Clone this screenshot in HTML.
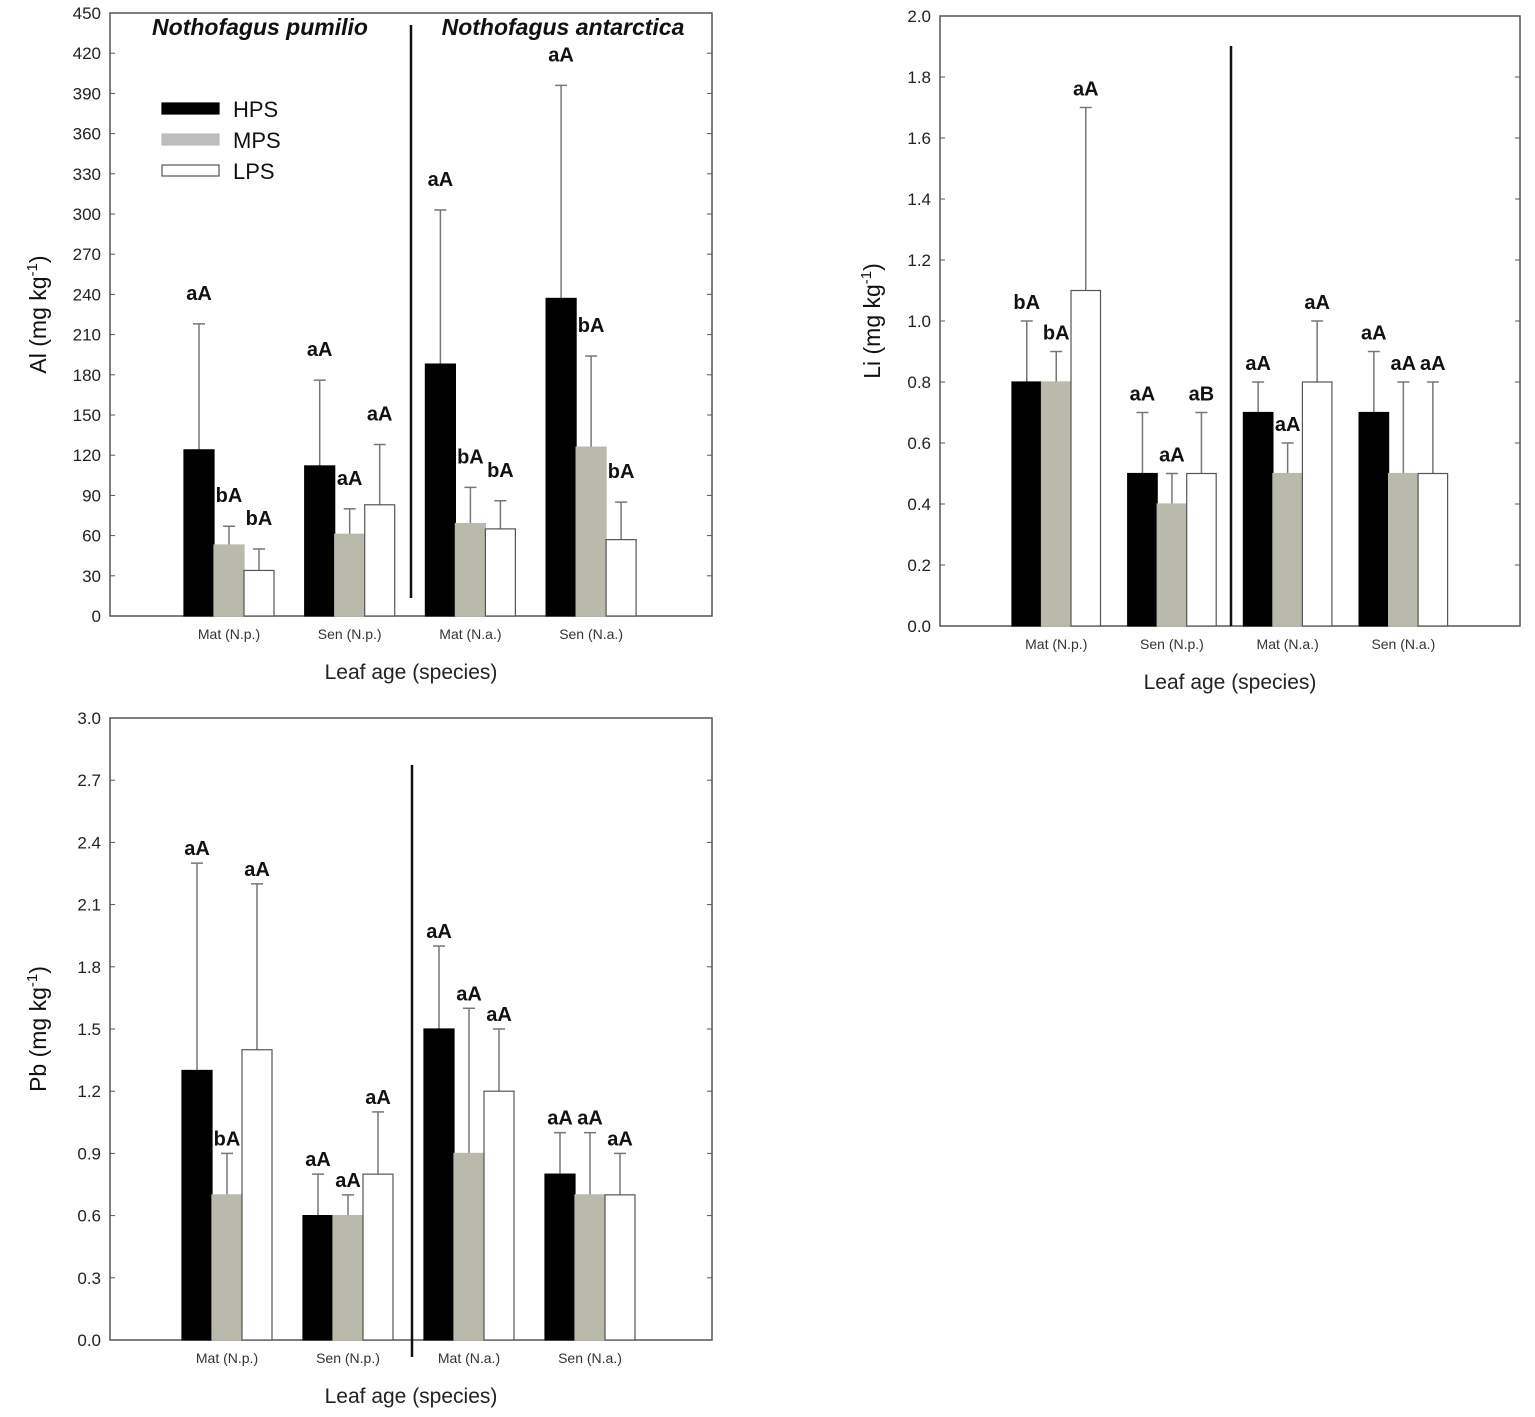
<!DOCTYPE html>
<html><head><meta charset="utf-8"><style>
body{margin:0;background:#fff;}
svg{display:block;font-family:"Liberation Sans",Arial,sans-serif;}
</style></head><body>
<svg id="c" width="1535" height="1417" viewBox="0 0 1535 1417"></svg>
<script>
const groups=["Mat (N.p.)","Sen (N.p.)","Mat (N.a.)","Sen (N.a.)"];
const series=["HPS","MPS","LPS"];
const alHPS=[124,112,188,237], alMPS=[53,61,69,126], alLPS=[34,83,65,57];
const alErrHPS=[218,176,303,396], alErrMPS=[67,80,96,194], alErrLPS=[50,128,86,85];
const alLabHPS=["aA","aA","aA","aA"], alLabMPS=["bA","aA","bA","bA"], alLabLPS=["bA","aA","bA","bA"];
const alTicks=[0,30,60,90,120,150,180,210,240,270,300,330,360,390,420,450];
const liHPS=[0.8,0.5,0.7,0.7], liMPS=[0.8,0.4,0.5,0.5], liLPS=[1.1,0.5,0.8,0.5];
const liErrHPS=[1.0,0.7,0.8,0.9], liErrMPS=[0.9,0.5,0.6,0.8], liErrLPS=[1.7,0.7,1.0,0.8];
const liLabHPS=["bA","aA","aA","aA"], liLabMPS=["bA","aA","aA","aA"], liLabLPS=["aA","aB","aA","aA"];
const liTicks=[0,0.2,0.4,0.6,0.8,1.0,1.2,1.4,1.6,1.8,2.0];
const pbHPS=[1.3,0.6,1.5,0.8], pbMPS=[0.7,0.6,0.9,0.7], pbLPS=[1.4,0.8,1.2,0.7];
const pbErrHPS=[2.3,0.8,1.9,1.0], pbErrMPS=[0.9,0.7,1.6,1.0], pbErrLPS=[2.2,1.1,1.5,0.9];
const pbLabHPS=["aA","aA","aA","aA"], pbLabMPS=["bA","aA","aA","aA"], pbLabLPS=["aA","aA","aA","aA"];
const pbTicks=[0,0.3,0.6,0.9,1.2,1.5,1.8,2.1,2.4,2.7,3.0];

const NS="http://www.w3.org/2000/svg";
const svg=document.getElementById('c');
function mk(tag,attrs,parent,text){const e=document.createElementNS(NS,tag);for(const k in attrs)e.setAttribute(k,attrs[k]);if(text!==undefined)e.textContent=text;(parent||svg).appendChild(e);return e;}
const fills=["#000","#b9b9ac","#fff"];

function panel(cfg){
  const g=mk('g',{});
  
  
  const y=v=>cfg.bottom-(v-cfg.min)/(cfg.max-cfg.min)*(cfg.bottom-cfg.top);
  const x0=i=>cfg.first+i*cfg.spacing;
  const box=mk('rect',{x:cfg.left,y:cfg.top,width:cfg.right-cfg.left,height:cfg.bottom-cfg.top,fill:'none',stroke:'#555','stroke-width':1.5},g);
  
  
  cfg.ticks.forEach(t=>{
    mk('line',{x1:cfg.left,x2:cfg.left+5,y1:y(t),y2:y(t),stroke:'#555'},g);
    mk('line',{x1:cfg.right,x2:cfg.right-5,y1:y(t),y2:y(t),stroke:'#555'},g);
    const tl=mk('text',{x:cfg.left-9,y:y(t)+6,'text-anchor':'end','font-size':17,fill:'#222'},g,cfg.fmt(t));
    
    
  });
  const dv=mk('line',{x1:cfg.divX,x2:cfg.divX,y1:cfg.divTop,y2:cfg.divBot,stroke:'#111','stroke-width':2.5},g);
  
  
  const vals=[cfg.h,cfg.m,cfg.l], errs=[cfg.eh,cfg.em,cfg.el], labs=[cfg.lh,cfg.lm,cfg.ll];
  groups.forEach((gn,i)=>{
    for(let s=0;s<3;s++){
      const bx=x0(i)+s*cfg.bw, v=vals[s][i], e=errs[s][i];
      const cx=bx+cfg.bw/2;
      const el=mk('line',{x1:cx,x2:cx,y1:y(v),y2:y(e),stroke:'#777','stroke-width':1.5},g);
      
      
      mk('line',{x1:cx-6,x2:cx+6,y1:y(e),y2:y(e),stroke:'#777','stroke-width':1.5},g);
      const r=mk('rect',{x:bx,y:y(v),width:cfg.bw,height:y(0)-y(v),fill:fills[s],stroke:s==2?'#555':fills[s],'stroke-width':1.2},g);
      
      
      const t=mk('text',{x:cx,y:y(e)-cfg.lo,'text-anchor':'middle','font-size':20,'font-weight':'bold',fill:'#111'},g,labs[s][i]);
      
      
    }
    const xl=mk('text',{x:x0(i)+cfg.bw*1.5,y:cfg.bottom+23,'text-anchor':'middle','font-size':14,fill:'#333'},g,gn);
    
    
  });
  const xt=mk('text',{x:(cfg.left+cfg.right)/2,y:cfg.bottom+63,'text-anchor':'middle','font-size':21,fill:'#222'},g,'Leaf age (species)');
  
  
  const yt=mk('text',{transform:`translate(${cfg.ylx},${(cfg.top+cfg.bottom)/2}) rotate(-90)`,'text-anchor':'middle','font-size':23,fill:'#111'},g);
  
  
  mk('tspan',{},yt,cfg.el0+' (mg kg');
  mk('tspan',{dy:-9,'font-size':15},yt,'-1');
  mk('tspan',{dy:9},yt,')');
  return g;
}
const f0=t=>String(t), f1=t=>t.toFixed(1);
panel({name:'al-panel',left:110,right:712,top:13,bottom:616,min:0,max:450,ticks:alTicks,fmt:f0,first:184,spacing:120.7,bw:30,lo:24,
  h:alHPS,m:alMPS,l:alLPS,eh:alErrHPS,em:alErrMPS,el:alErrLPS,lh:alLabHPS,lm:alLabMPS,ll:alLabLPS,divX:411,divTop:25,divBot:598,ylx:46,el0:'Al'});
panel({name:'li-panel',left:940,right:1520,top:16,bottom:626,min:0,max:2,ticks:liTicks,fmt:f1,first:1012,spacing:115.7,bw:29.5,lo:12,
  h:liHPS,m:liMPS,l:liLPS,eh:liErrHPS,em:liErrMPS,el:liErrLPS,lh:liLabHPS,lm:liLabMPS,ll:liLabLPS,divX:1231,divTop:46,divBot:626,ylx:880,el0:'Li'});
panel({name:'pb-panel',left:110,right:712,top:718,bottom:1340,min:0,max:3,ticks:pbTicks,fmt:f1,first:182,spacing:121,bw:30,lo:8,
  h:pbHPS,m:pbMPS,l:pbLPS,eh:pbErrHPS,em:pbErrMPS,el:pbErrLPS,lh:pbLabHPS,lm:pbLabMPS,ll:pbLabLPS,divX:412,divTop:765,divBot:1357,ylx:46,el0:'Pb'});
const t1=mk('text',{x:260,y:35,'text-anchor':'middle','font-size':23,'font-weight':'bold','font-style':'italic',fill:'#111'},svg,'Nothofagus pumilio');


const t2=mk('text',{x:563,y:35,'text-anchor':'middle','font-size':23,'font-weight':'bold','font-style':'italic',fill:'#111'},svg,'Nothofagus antarctica');


const lg=mk('g',{});


[["HPS","#000","#000",103],["MPS","#bdbdbd","#bdbdbd",134],["LPS","#fff","#555",165]].forEach(a=>{
  const r=mk('rect',{x:162,y:a[3],width:57,height:11,fill:a[1],stroke:a[2],'stroke-width':1.2},lg);
  
  
  const t=mk('text',{x:233,y:a[3]+14,'font-size':22,fill:'#111'},lg,a[0]);
  
  
});
</script>
</body></html>
